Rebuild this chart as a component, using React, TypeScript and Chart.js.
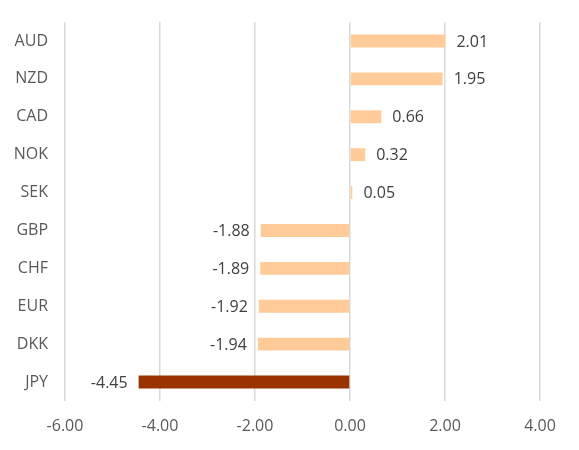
import { useRef, useEffect } from "react";
import { Chart, registerables } from "chart.js";
import type { Plugin } from "chart.js";

Chart.register(...registerables);

const currencies = ["AUD", "NZD", "CAD", "NOK", "SEK", "GBP", "CHF", "EUR", "DKK", "JPY"];
const changes = [2.01, 1.95, 0.66, 0.32, 0.05, -1.88, -1.89, -1.92, -1.94, -4.45];
const barColors = ["#FFCC99", "#FFCC99", "#FFCC99", "#FFCC99", "#FFCC99", "#FFCC99", "#FFCC99", "#FFCC99", "#FFCC99", "#993300"];
const X_MIN = -6;
const X_MAX = 4;
const X_STEP = 2;

const FONT = "'Open Sans', 'Liberation Sans', sans-serif";

// Draw the value next to the end of each bar
const valueLabels: Plugin<"bar"> = {
    id: "valueLabels",
    afterDatasetsDraw(chart) {
        const ctx = chart.ctx;
        const meta = chart.getDatasetMeta(0);
        ctx.save();
        ctx.font = `16px ${FONT}`;
        ctx.fillStyle = "#404040";
        ctx.textBaseline = "middle";
        meta.data.forEach((bar, i) => {
            const v = changes[i];
            const { x, y } = bar.getProps(["x", "y"], true);
            if (v >= 0) {
                ctx.textAlign = "left";
                ctx.fillText(v.toFixed(2), x + 11, y + 1);
            } else {
                ctx.textAlign = "right";
                ctx.fillText(v.toFixed(2), x - 11, y + 1);
            }
        });
        ctx.restore();
    }
};

export default function App() {
    const canvasRef = useRef<HTMLCanvasElement>(null);

    useEffect(() => {
        document.body.style.margin = "0";
        const canvas = canvasRef.current;
        if (!canvas) return;

        const chart = new Chart(canvas, {
            type: "bar",
            data: {
                labels: currencies,
                datasets: [
                    {
                        data: changes,
                        backgroundColor: barColors,
                        borderWidth: 0,
                        categoryPercentage: 1,
                        barPercentage: 0.34
                    }
                ]
            },
            options: {
                indexAxis: "y",
                responsive: false,
                animation: false,
                layout: { padding: { top: 22, right: 39, left: 0, bottom: 0 } },
                scales: {
                    x: {
                        min: X_MIN,
                        max: X_MAX,
                        border: { display: false },
                        grid: { color: "#D9D9D9", lineWidth: 1.5, drawTicks: false },
                        ticks: {
                            stepSize: X_STEP,
                            padding: 16,
                            color: "#595959",
                            font: { family: FONT, size: 16 },
                            callback: v => Number(v).toFixed(2)
                        },
                        afterFit: scale => {
                            scale.height = 49;
                        }
                    },
                    y: {
                        border: { display: false },
                        grid: { display: false },
                        ticks: {
                            padding: 9,
                            color: "#595959",
                            font: { family: FONT, size: 16 }
                        },
                        afterFit: scale => {
                            scale.width = 65;
                        }
                    }
                },
                plugins: {
                    legend: { display: false },
                    tooltip: { enabled: false }
                }
            },
            plugins: [valueLabels]
        });

        return () => {
            chart.destroy();
        };
    }, []);

    return (
        <div style={{ width: 579, height: 450, background: "#fff" }}>
            <canvas ref={canvasRef} width={579} height={450} />
        </div>
    );
}
